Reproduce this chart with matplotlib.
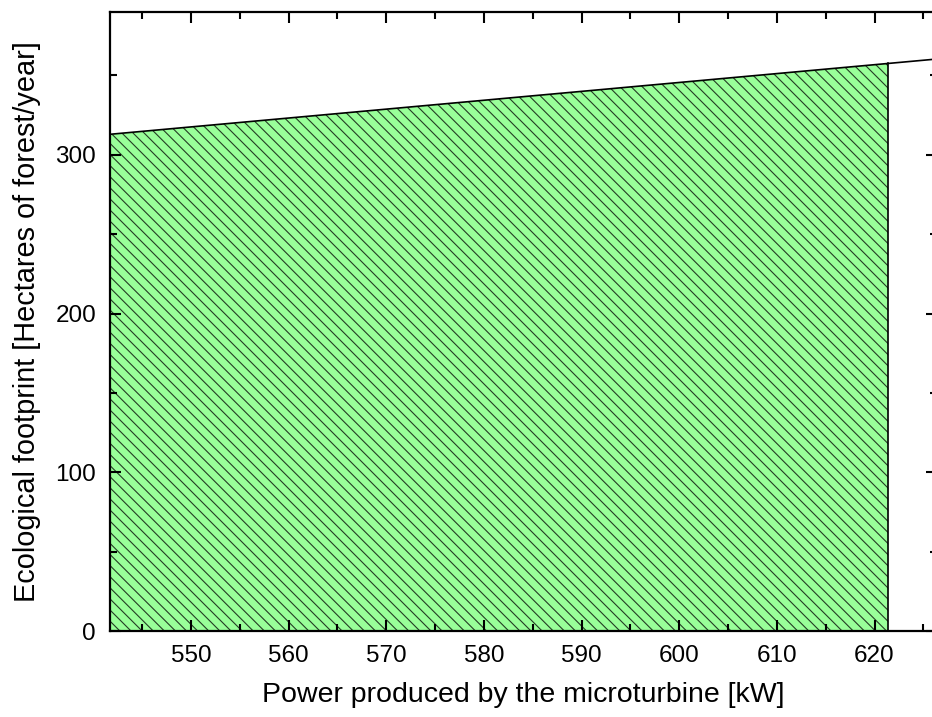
import numpy as np
import matplotlib.pyplot as plt
from matplotlib.ticker import MultipleLocator

plt.rcParams['font.family'] = ['Liberation Sans', 'DejaVu Sans']
plt.rcParams['hatch.linewidth'] = 0.8

# power (kW) and ecological footprint (hectares of forest / year)
power = [540.0, 560.0, 580.0, 600.0, 620.0, 630.0]
footprint = [312.0, 323.2, 334.4, 345.6, 356.8, 362.4]
power_limit = 621.4

x = np.array(power)
y = np.array(footprint)

fig = plt.figure(figsize=(9.32, 7.17), dpi=100)
ax = fig.add_axes([110 / 932, 1 - 631 / 717, 827 / 932, 619 / 717])

mask = x <= power_limit
xf = np.append(x[mask], power_limit)
yf = np.append(y[mask], np.interp(power_limit, x, y))
ax.fill_between(xf, 0, yf, facecolor='#99ff99', edgecolor='#243d24',
                hatch='\\\\\\', linewidth=0)
ax.plot([power_limit, power_limit], [0, yf[-1]], color='black', lw=1.2)
ax.plot(x, y, color='black', lw=1.2)

ax.set_xlim(541.7, 626.4)
ax.set_ylim(0, 390)
ax.xaxis.set_major_locator(MultipleLocator(10))
ax.xaxis.set_minor_locator(MultipleLocator(5))
ax.yaxis.set_major_locator(MultipleLocator(100))
ax.yaxis.set_minor_locator(MultipleLocator(50))
ax.tick_params(which='both', direction='in', top=True, right=True,
               width=1.5, labelsize=17.5)
ax.tick_params(which='major', length=8)
ax.tick_params(which='minor', length=5)
ax.tick_params(axis='x', pad=10)
ax.tick_params(axis='y', pad=10)
for s in ax.spines.values():
    s.set_linewidth(1.6)

ax.set_xlabel('Power produced by the microturbine [kW]', fontsize=20.5, labelpad=11)
ax.set_ylabel('Ecological footprint [Hectares of forest/year]', fontsize=20.8, labelpad=10)

fig.savefig('out.png', dpi=100)
